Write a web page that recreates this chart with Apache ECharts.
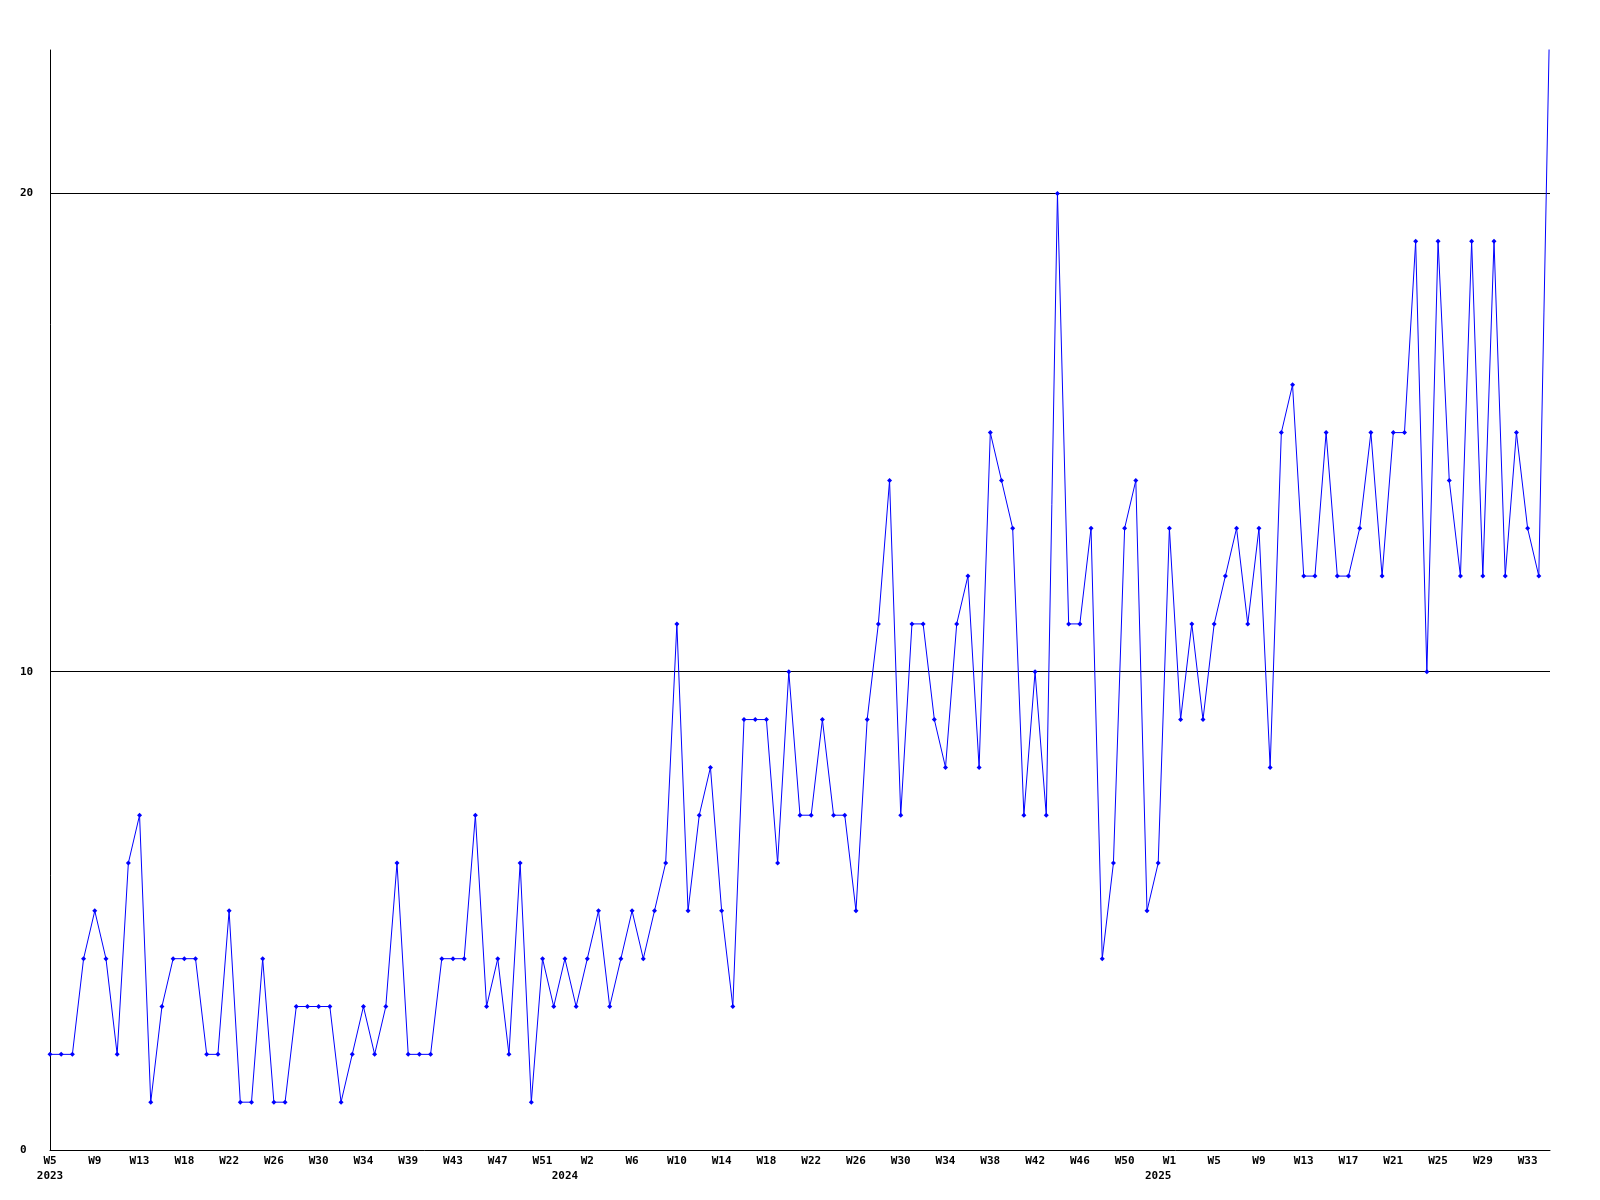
<!DOCTYPE html>
<html>
<head>
<meta charset="utf-8">
<script src="https://cdn.jsdelivr.net/npm/echarts@6/dist/echarts.min.js"></script>
<style>
html,body{margin:0;padding:0;background:#fff;}
#chart{width:1600px;height:1200px;}
</style>
</head>
<body>
<div id="chart"></div>
<script>
// Weekly values, 2023 W5 .. 2025 W34 (one per point)
const values = [
  2,2,2,4,5,4,2,6,7,1,
  3,4,4,4,2,2,5,1,1,4,
  1,1,3,3,3,3,1,2,3,2,
  3,6,2,2,2,4,4,4,7,3,
  4,2,6,1,4,3,4,3,4,5,
  3,4,5,4,5,6,11,5,7,8,
  5,3,9,9,9,6,10,7,7,9,
  7,7,5,9,11,14,7,11,11,9,
  8,11,12,8,15,14,13,7,10,7,
  20,11,11,13,4,6,13,14,5,6,
  13,9,11,9,11,12,13,11,13,8,
  15,16,12,12,15,12,12,13,15,12,
  15,15,19,10,19,14,12,19,12,19,
  12,15,13,12,24
];
// Tick labels shown every 4th point
const tickLabels = ['W5','W9','W13','W18','W22','W26','W30','W34','W39','W43','W47','W51',
  'W2','W6','W10','W14','W18','W22','W26','W30','W34','W38','W42','W46','W50',
  'W1','W5','W9','W13','W17','W21','W25','W29','W33'];
// Year labels and the point index they sit under
const yearLabels = ['2023','2024','2025'];
const yearIndex = [0, 46, 99];
const yTicks = [0, 10, 20];

const categories = values.map((v, i) => String(i));

const font = {fontFamily: 'DejaVu Sans Mono', fontWeight: 'bold', fontSize: 11, color: '#000'};

const chart = echarts.init(document.getElementById('chart'), null, {renderer: 'canvas'});
chart.setOption({
  animation: false,
  backgroundColor: '#fff',
  grid: {left: 50, right: 50, top: 50, bottom: 50, containLabel: false},
  xAxis: [{
    type: 'category',
    data: categories,
    boundaryGap: false,
    axisLine: {show: true, lineStyle: {color: '#000', width: 1}},
    axisTick: {show: false},
    splitLine: {show: false},
    axisLabel: Object.assign({
      interval: 3,
      margin: 6,
      formatter: (val, idx) => tickLabels[idx / 4] || ''
    }, font)
  }, {
    type: 'category',
    data: categories,
    boundaryGap: false,
    position: 'bottom',
    axisLine: {show: false},
    axisTick: {show: false},
    splitLine: {show: false},
    axisLabel: Object.assign({
      interval: (idx) => yearIndex.indexOf(idx) >= 0,
      margin: 21,
      formatter: (val, idx) => {
        const k = yearIndex.indexOf(idx);
        return k >= 0 ? yearLabels[k] : '';
      }
    }, font)
  }],
  yAxis: {
    type: 'value',
    min: 0,
    max: 23,
    interval: 10,
    axisLine: {show: true, lineStyle: {color: '#000', width: 1}},
    axisTick: {show: false},
    splitLine: {show: true, showMinLine: false, showMaxLine: false, lineStyle: {color: '#000', width: 1}},
    axisLabel: Object.assign({
      align: 'left',
      margin: 30,
      showMaxLabel: false,
      formatter: (v) => yTicks.indexOf(v) >= 0 ? String(v) : ''
    }, font)
  },
  series: [{
    type: 'line',
    xAxisIndex: 0,
    data: values,
    clip: true,
    showSymbol: true,
    showAllSymbol: true,
    symbol: 'diamond',
    symbolSize: 5,
    itemStyle: {color: '#0000ff'},
    lineStyle: {color: '#0000ff', width: 1},
    emphasis: {disabled: true}
  }]
});
</script>
</body>
</html>
